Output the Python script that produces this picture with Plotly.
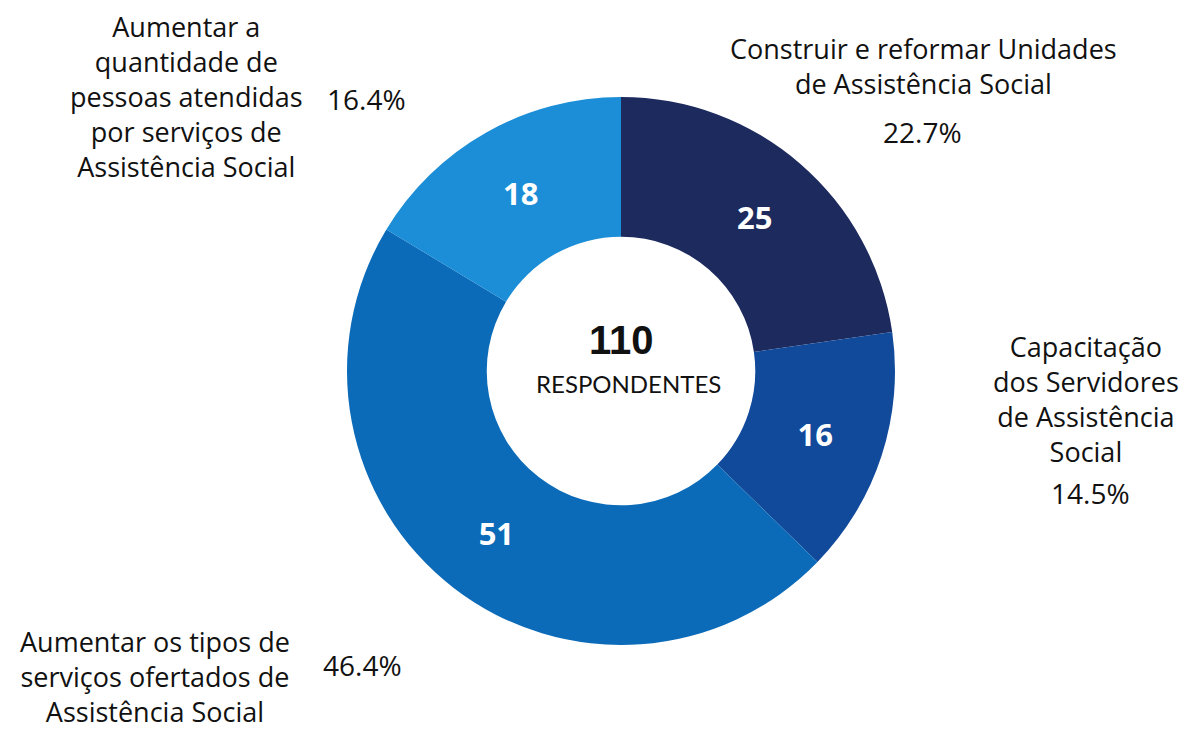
import plotly.graph_objects as go

W, H = 1191, 730

# Respostas por prioridade (sentido horário a partir das 12 h)
categorias = [
    "Construir e reformar Unidades de Assistência Social",
    "Capacitação dos Servidores de Assistência Social",
    "Aumentar os tipos de serviços ofertados de Assistência Social",
    "Aumentar a quantidade de pessoas atendidas por serviços de Assistência Social",
]
respostas = [25, 16, 51, 18]
percentuais = ["22.7%", "14.5%", "46.4%", "16.4%"]
cores = ["#1c2a5e", "#11499b", "#0b6bb8", "#1b8ed7"]
total_respondentes = 110

# Rótulos externos (texto quebrado em linhas)
rotulos = [
    "Construir e reformar Unidades<br>de Assistência Social",
    "Capacitação<br>dos Servidores<br>de Assistência<br>Social",
    "Aumentar os tipos de<br>serviços ofertados de<br>Assistência Social",
    "Aumentar a<br>quantidade de<br>pessoas atendidas<br>por serviços de<br>Assistência Social",
]

cx, cy, r = 621, 371, 274

fig = go.Figure(
    go.Pie(
        labels=categorias,
        values=respostas,
        hole=0.49,
        sort=False,
        direction="clockwise",
        rotation=0,
        marker=dict(colors=cores, line=dict(width=0)),
        textinfo="value",
        textposition="inside",
        insidetextorientation="horizontal",
        textfont=dict(family="Open Sans", size=31, color="white", weight="bold"),
        showlegend=False,
        domain=dict(x=[(cx - r) / W, (cx + r) / W], y=[1 - (cy + r) / H, 1 - (cy - r) / H]),
    )
)

FONT = "Open Sans"
LBL = 27
PCT = 28


def ann(px, py, text, size=LBL, family=FONT, weight="normal", xanchor="center", yanchor="middle"):
    fig.add_annotation(
        x=px / W, y=1 - py / H, xref="paper", yref="paper",
        text=text, showarrow=False, xanchor=xanchor, yanchor=yanchor, align="center",
        font=dict(family=family, size=size, color="#111111", weight=weight),
    )


# Centro do anel
ann(621, 340, str(total_respondentes), size=40, family="Liberation Sans", weight="bold")
ann(628, 384, "RESPONDENTES", size=24, family="Lato")

# Construir e reformar
ann(923, 66, rotulos[0])
ann(922, 132, percentuais[0], size=PCT)
# Capacitação
ann(1086, 399, rotulos[1])
ann(1090, 493, percentuais[1], size=PCT)
# Aumentar os tipos
ann(155, 676, rotulos[2])
ann(362, 665, percentuais[2], size=PCT)
# Aumentar a quantidade
ann(186, 96, rotulos[3])
ann(366, 99, percentuais[3], size=PCT)

fig.update_layout(
    width=W, height=H,
    margin=dict(l=0, r=0, t=0, b=0),
    paper_bgcolor="white",
    plot_bgcolor="white",
)

fig.write_html("out.html")
